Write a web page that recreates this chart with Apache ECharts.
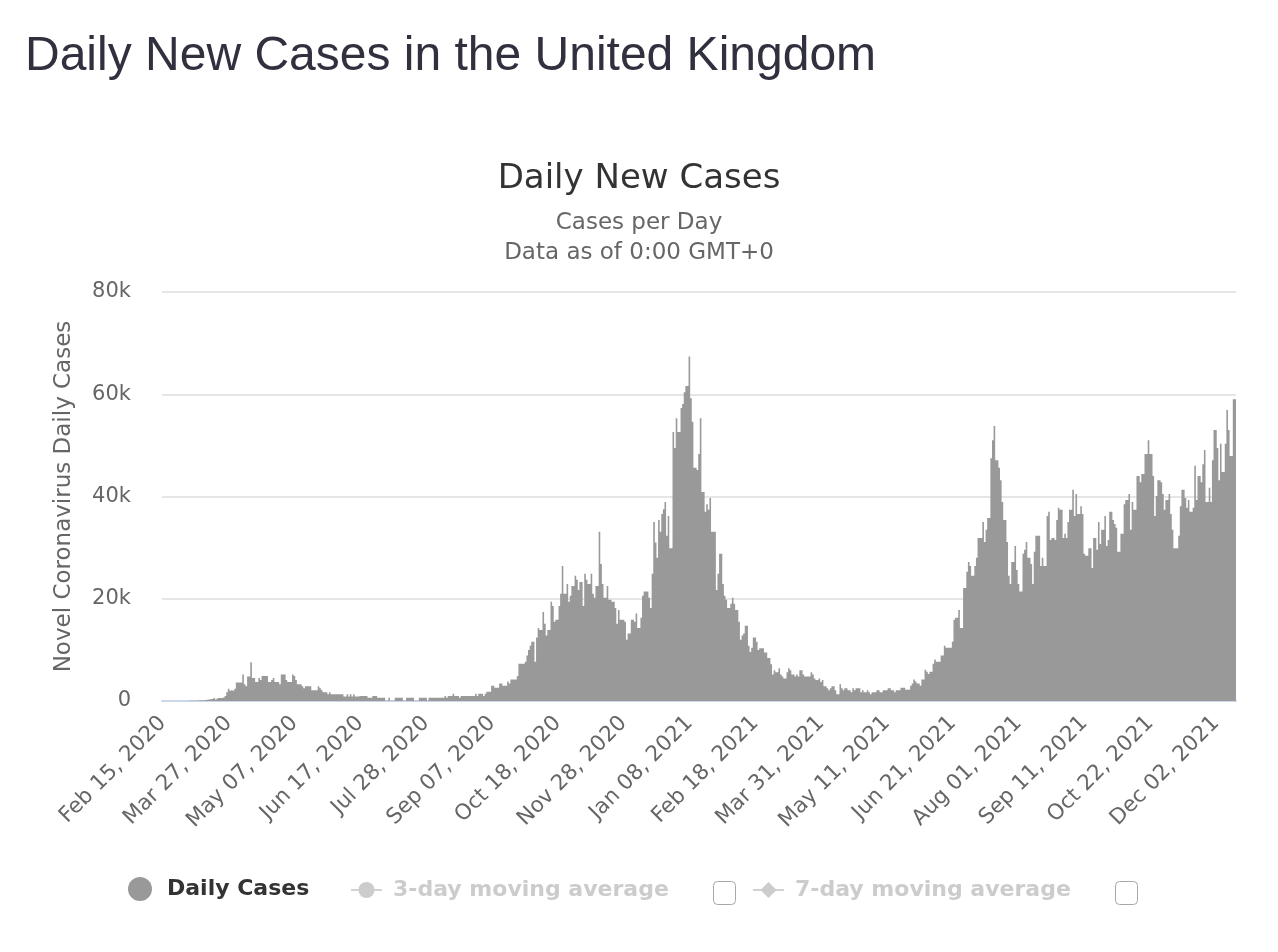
<!DOCTYPE html>
<html>
<head>
<meta charset="utf-8">
<script src="https://cdn.jsdelivr.net/npm/echarts@6/dist/echarts.min.js"></script>
<style>
html,body{margin:0;padding:0;background:#fff;}
#c{width:1278px;height:952px;}
</style>
</head>
<body>
<div id="c"></div>
<script>
// Daily new cases, Feb 15 2020 - Dec 31 2020
const cases2020 = [
0,0,0,0,0,0,0,0,0,0,0,0,0,0,
10,10,10,30,50,50,50,50,100,100,150,100,150,200,250,300,350,400,
600,300,500,600,600,600,700,1000,1700,2400,
2000,2100,2000,2400,3600,3600,3600,3600,5200,3300,
2900,4800,4800,7600,4500,4500,3700,3700,4500,4100,
4900,4900,4900,4900,3700,3700,4100,4500,3700,3700,
3700,3300,5200,5200,5200,4100,3700,3700,3700,5200,
4900,4100,3300,3300,3300,2900,2500,2900,2900,2900,
2900,2100,2100,2100,2100,2900,2500,2100,1700,1700,
1700,1300,1700,1300,1300,1300,1300,1300,1300,1300,
1300,900,900,1300,900,1300,900,1300,900,900,
900,1000,1000,1000,1000,1000,650,650,650,1000,
1000,1000,650,650,650,650,650,50,50,650,
50,50,50,650,650,650,650,650,50,50,
650,650,650,650,650,50,50,50,650,650,
650,650,650,50,650,650,650,650,650,650,
650,650,650,650,1000,650,1000,1000,1000,1400,
1000,1000,1000,650,1000,1000,1000,1000,1000,1000,
1000,1000,1000,1400,1000,1400,1400,1400,1000,1400,
1800,1800,1800,3000,3000,2600,2600,2600,3400,3400,
3000,3000,3000,3800,3400,4200,4200,4200,4200,4900,
7300,7300,7300,7300,7700,8900,10000,10800,11600,11600,
7700,12400,14300,13900,13900,17400,15100,12800,13900,13900,
19400,18600,15500,15900,15900,18600,21000,26400,21000,21000,
22900,19400,20600,22500,22500,24500,23700,21700,23300,23300,
18600,24900,23700,22900,22900,24900,21000,20200,22500,22500,
33100,26800,22900,20200,20200,22500,19800,19800,19400,19400,
18200,15100,17800,15900,15900,15900,15500,12000,13200,13200,
15900,15900,15500,17100,14300,14300,16300,20600,21400,21400,
21400,20200,18200,24900,35000,31000,28000,35400,33100,36600,
37500,38900,32300,36200,29900,29900,52600,49500,55300
];
// Daily new cases, Jan 1 2021 - Dec 14 2021
const cases2021 = [
52600,52600,57300,58100,60400,61600,61600,67400,59200,54600,
45600,45600,45200,48300,55300,40900,40900,37000,38500,37400,
39700,33100,33100,33100,21700,24900,28800,28800,22900,20600,
19800,18200,18200,19000,20200,19000,17800,17800,15500,12000,
12800,13200,14700,14700,10800,9600,10400,12400,12400,11600,
10000,10300,10300,10300,9500,9500,8400,8400,7200,5200,
6000,5600,5600,6400,5200,4800,4400,4400,5600,6400,
6000,5200,5200,4800,5200,4800,6000,6000,5200,4800,
4800,4800,4800,5600,5200,4400,4100,4100,4400,3700,
4100,2900,2900,2500,2100,2500,2900,2900,2100,1300,
1300,3300,2500,2100,2500,2500,2100,2100,1700,2500,
2100,2500,2500,2500,1700,2100,1700,1700,2100,1700,
1300,1700,1700,1700,2100,2100,1700,1700,2100,2100,
2100,2500,2500,2100,2100,1700,2100,2100,2100,2600,
2600,2600,2200,2200,2200,3000,3400,4200,3800,3400,
3400,3000,4200,4200,6100,5700,5300,5700,5700,7300,
8100,7700,7700,7700,8900,8900,10800,10400,10400,10400,
10400,11600,15900,16300,16300,17800,14300,14300,22100,22100,
25300,27200,26400,24500,24500,26400,28000,31900,31900,31900,
35000,31100,33500,35800,35800,47500,51000,53800,47100,47100,
45600,43200,38900,35400,35400,31100,24500,22900,27200,27200,
30300,25600,22900,21400,21400,28800,29600,31100,28000,28000,
26800,22900,29200,32300,32300,32300,26400,28000,26400,26400,
36200,37000,31500,31900,31900,31500,35400,37800,37400,37400,
31900,32700,31900,35000,37400,37400,41300,36200,40500,36600,
36600,38100,36600,28800,28400,28400,29900,29900,26000,31900,
31900,29600,35000,30700,33500,33500,36200,30300,31500,37000,
37000,35400,34600,33900,29200,29200,32700,32700,38500,39300,
39300,40500,33500,38900,37400,37400,44000,44000,42800,44400,
44400,48300,48300,51000,48300,48300,44000,36200,40100,43200,
43200,42800,40500,37400,39300,39300,40500,36600,33500,29900,
29900,29900,32300,38100,41300,41300,39700,37800,39300,37000,
37000,37800,46000,39300,44000,44000,42800,46300,49100,38900,
38900,41700,38900,47100,53000,53000,49500,43200,50300,44800,
44800,50300,56900,53000,47900,47900,59000,59000
];
const dailyCases = cases2020.concat(cases2021);

const firstDay = [2020, 1, 15]; // Feb 15, 2020
const monthNames = ['Jan','Feb','Mar','Apr','May','Jun','Jul','Aug','Sep','Oct','Nov','Dec'];
const categories = [];
for (let i = 0; i < dailyCases.length; i++) {
  const d = new Date(Date.UTC(firstDay[0], firstDay[1], firstDay[2] + i));
  const dd = String(d.getUTCDate()).padStart(2, '0');
  categories.push(monthNames[d.getUTCMonth()] + ' ' + dd + ', ' + d.getUTCFullYear());
}
const yTicks = [0, 20000, 40000, 60000, 80000];
const seriesNames = ['Daily Cases', '3-day moving average', '7-day moving average'];

const FONT = 'DejaVu Sans';
const chart = echarts.init(document.getElementById('c'), null, {renderer: 'canvas'});
chart.setOption({
  animation: false,
  backgroundColor: '#ffffff',
  title: [
    {text: 'Daily New Cases in the United Kingdom', left: 25, top: 33, padding: 0,
     textStyle: {fontFamily: 'Liberation Sans', fontSize: 48, fontWeight: 'normal', color: '#30303e'}},
    {text: 'Daily New Cases', left: 'center', top: 162, padding: 0,
     textStyle: {fontFamily: FONT, fontSize: 34, fontWeight: 'normal', color: '#333333'}},
    {text: 'Cases per Day', left: 'center', top: 212, padding: 0,
     textStyle: {fontFamily: FONT, fontSize: 23, fontWeight: 'normal', color: '#666666'}},
    {text: 'Data as of 0:00 GMT+0', left: 'center', top: 242, padding: 0,
     textStyle: {fontFamily: FONT, fontSize: 23, fontWeight: 'normal', color: '#666666'}}
  ],
  legend: [
    {data: [seriesNames[0]], left: 128, top: 877, padding: 0, icon: 'circle', itemWidth: 24, itemHeight: 24,
     textStyle: {fontFamily: FONT, fontSize: 22, fontWeight: 'bold', color: '#333333', padding: [0,0,0,10]}},
    {data: [seriesNames[1]], left: 350, top: 879, padding: 0, itemWidth: 31, itemHeight: 20, inactiveColor: '#cccccc',
     selected: {'3-day moving average': false, '7-day moving average': false},
     textStyle: {fontFamily: FONT, fontSize: 22, fontWeight: 'bold', color: '#333333', padding: [0,0,0,6]}},
    {data: [seriesNames[2]], left: 752, top: 879, padding: 0, itemWidth: 31, itemHeight: 20, inactiveColor: '#cccccc',
     selected: {'3-day moving average': false, '7-day moving average': false},
     textStyle: {fontFamily: FONT, fontSize: 22, fontWeight: 'bold', color: '#333333', padding: [0,0,0,6]}}
  ],
  graphic: [
    {type: 'rect', left: 713, top: 881, shape: {width: 22, height: 23, r: 4},
     style: {fill: '#ffffff', stroke: '#a8a8a8', lineWidth: 1}},
    {type: 'rect', left: 1115, top: 881, shape: {width: 22, height: 23, r: 4},
     style: {fill: '#ffffff', stroke: '#a8a8a8', lineWidth: 1}}
  ],
  grid: {left: 162, right: 42, top: 292, bottom: 251, containLabel: false},
  xAxis: {
    type: 'category',
    data: categories,
    boundaryGap: true,
    axisLine: {show: true, lineStyle: {color: '#ccd6eb', width: 2}},
    axisTick: {show: false},
    axisLabel: {interval: 40, rotate: 45, margin: 19, color: '#666666', fontFamily: FONT, fontSize: 21.5}
  },
  yAxis: {
    type: 'value',
    min: yTicks[0], max: yTicks[yTicks.length - 1], interval: 20000,
    name: 'Novel Coronavirus Daily Cases',
    nameLocation: 'middle', nameRotate: 90, nameGap: 86,
    nameTextStyle: {fontFamily: FONT, fontSize: 23, color: '#666666'},
    axisLine: {show: false}, axisTick: {show: false},
    splitLine: {lineStyle: {color: '#e6e6e6', width: 2}},
    axisLabel: {margin: 31, color: '#666666', fontFamily: FONT, fontSize: 21, padding: [8, 0, 0, 0],
      formatter: function (v) { return v === 0 ? '0' : (v / 1000) + 'k'; }}
  },
  series: [
    {name: seriesNames[0], type: 'bar', data: dailyCases, barCategoryGap: '0%',
     large: true, largeThreshold: 100,
     itemStyle: {color: '#999999'}, emphasis: {disabled: true}},
    {name: seriesNames[1], type: 'line', data: [], symbol: 'circle', symbolSize: 10,
     itemStyle: {color: '#999999'}, lineStyle: {color: '#999999', width: 2}},
    {name: seriesNames[2], type: 'line', data: [], symbol: 'diamond', symbolSize: 12,
     itemStyle: {color: '#999999'}, lineStyle: {color: '#999999', width: 2}}
  ]
});
</script>
</body>
</html>
